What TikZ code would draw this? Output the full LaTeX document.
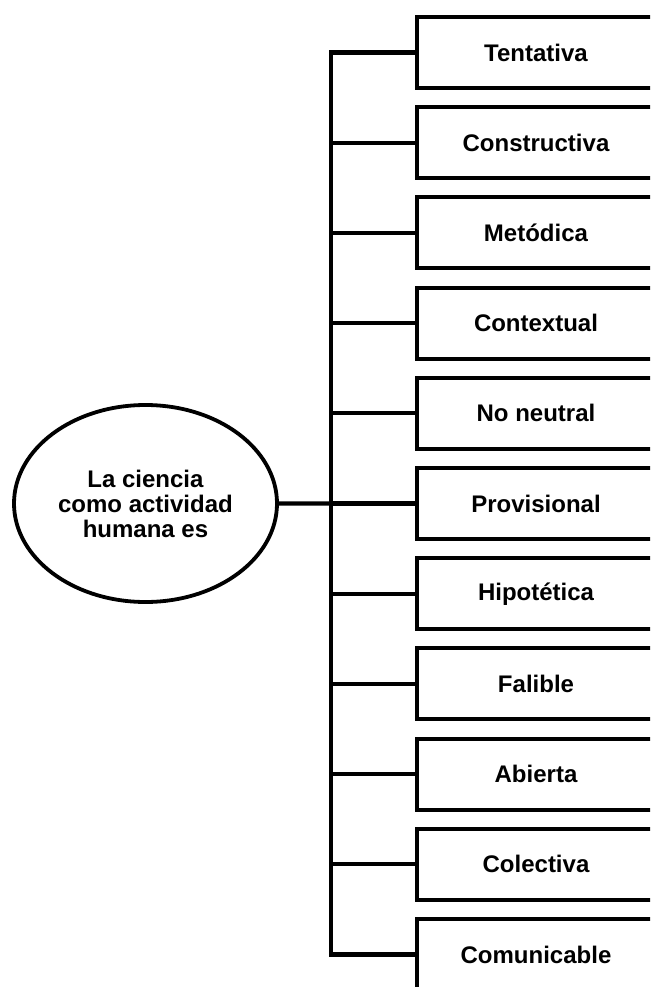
\documentclass[tikz,border=0pt]{standalone}
\usepackage{fontspec}
\setmainfont{Liberation Sans}
\usetikzlibrary{shapes.geometric}

\tikzset{
  every picture/.style={x=1pt,y=-1pt},
  label text/.style={font=\bfseries\fontsize{24}{25}\selectfont},
  itembox/.style={draw, line width=4pt, rectangle, inner sep=0pt,
    minimum width=238pt, minimum height=71pt, label text, text=black},
  rootnode/.style={draw, line width=3.8pt, ellipse, inner sep=0pt,
    minimum width=263pt, minimum height=197pt, align=center, label text},
  link/.style={line width=4.2pt, line join=miter}
}

\begin{document}
\begin{tikzpicture}
  \useasboundingbox (0,0) rectangle (650,987);
  \clip (0,0) rectangle (650,987);

  % central concept
  \node[rootnode] (root) at (145.5,503.5) {La ciencia\\como actividad\\humana es};

  % list of properties
  \foreach \name [count=\i from 0] in {Tentativa,Constructiva,Met\'odica,Contextual,No neutral,Provisional,Hipot\'etica,Falible,Abierta,Colectiva,Comunicable}
    \node[itembox] (b\i) at (536,{52.5+90.2*\i}) {\name};

  % trunk line
  \coordinate (trunk) at (331,0);
  \draw[link] (b0.west) -- (b0.west -| trunk) -- (b10.west -| trunk) -- (b10.west);
  \foreach \i in {1,...,9}
    \draw[link] (b\i.west -| trunk) -- (b\i.west);
  \draw[link] (root.east) -- (b5.west);
\end{tikzpicture}
\end{document}
